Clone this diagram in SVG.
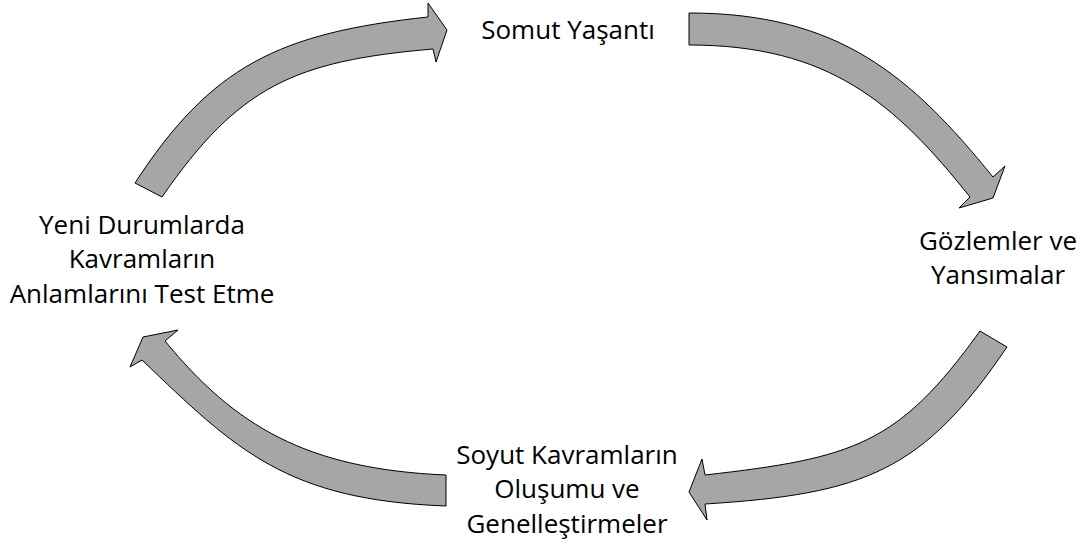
<svg xmlns="http://www.w3.org/2000/svg" width="1083" height="549" viewBox="0 0 1083 549">
  <style>
    .arrow { fill: #a6a6a6; stroke: #000000; stroke-width: 1; stroke-linejoin: miter; }
    .label { font-family: "Open Sans", "Noto Sans", "Liberation Sans", sans-serif; font-size: 26px; fill: #000000; text-anchor: middle; }
  </style>
  <rect width="1083" height="549" fill="#ffffff"/>

  <!-- curved block arrows forming the cycle -->
  <g id="connectors">
    <path id="arrow-test-to-experience" class="arrow" d="M135,183 C211,66 279,33 428,17 L428,3 L447,30 L436,62 L433,49 C294,61 239,86 162,197 Z"/>
    <path id="arrow-experience-to-reflection" class="arrow" d="M689,13 C839,13 911,76 993,177 L1005,166 L993,198 L959,208 L970,197 C895,103 829,45 689,45 Z"/>
    <path id="arrow-reflection-to-concepts" class="arrow" d="M980,331 L1007,347 C923,471 865,494 705,504 L707,520 L689,492 L702,459 L705,475 C854,458 898,445 980,331 Z"/>
    <path id="arrow-concepts-to-test" class="arrow" d="M446,475 C306,469 235,426 165,341 L178,330 L143,337 L130,367 L142,360 C236,450 286,500 446,506 Z"/>
  </g>

  <g id="node-somut">
    <text class="label" x="568" y="39">Somut Yaşantı</text>
  </g>

  <g id="node-gozlemler">
    <text class="label" x="998" y="250">Gözlemler ve</text>
    <text class="label" x="998" y="284">Yansımalar</text>
  </g>

  <g id="node-soyut">
    <text class="label" x="567" y="464">Soyut Kavramların</text>
    <text class="label" x="567" y="498">Oluşumu ve</text>
    <text class="label" x="567" y="533">Genelleştirmeler</text>
  </g>

  <g id="node-yeni">
    <text class="label" x="142" y="234">Yeni Durumlarda</text>
    <text class="label" x="142" y="268">Kavramların</text>
    <text class="label" x="142" y="303">Anlamlarını Test Etme</text>
  </g>
</svg>
